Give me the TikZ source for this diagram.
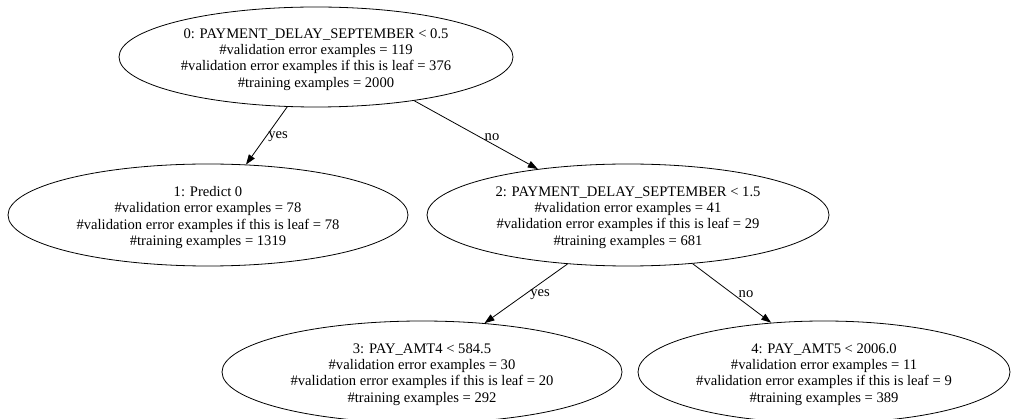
\documentclass[tikz,border=0pt]{standalone}
\usepackage{fontspec}
\setmainfont{Liberation Serif}
\usetikzlibrary{shapes.geometric,arrows.meta}
\tikzset{
  tnode/.style={draw, ellipse, inner sep=0pt, line width=0.8pt},
  ttext/.style={align=center, inner sep=0pt, yshift=-2.5pt,
    font=\fontsize{14.6}{16.2}\selectfont},
  tedge/.style={draw, line width=0.8pt, -{Triangle[length=10pt,width=7pt]}},
  elabel/.style={font=\fontsize{14.6}{16.2}\selectfont, inner sep=0pt}
}
\begin{document}
\begin{tikzpicture}[x=1pt,y=-1pt]
\useasboundingbox (0,0) rectangle (1017,419);
\begin{scope}
\clip (0,0) rectangle (1017,419);
\node[tnode, minimum width=394pt, minimum height=100pt,
  label={[ttext]center:{0: PAYMENT\_DELAY\_SEPTEMBER < 0.5\\\#validation error examples = 119\\\#validation error examples if this is leaf = 376\\\#training examples = 2000}}] (n0) at (316,57) {};
\node[tnode, minimum width=400pt, minimum height=102pt,
  label={[ttext]center:{1: Predict 0\\\#validation error examples = 78\\\#validation error examples if this is leaf = 78\\\#training examples = 1319}}] (n1) at (208,215) {};
\node[tnode, minimum width=402pt, minimum height=102pt,
  label={[ttext]center:{2: PAYMENT\_DELAY\_SEPTEMBER < 1.5\\\#validation error examples = 41\\\#validation error examples if this is leaf = 29\\\#training examples = 681}}] (n2) at (628,215) {};
\node[tnode, minimum width=400pt, minimum height=102pt,
  label={[ttext]center:{3: PAY\_AMT4 < 584.5\\\#validation error examples = 30\\\#validation error examples if this is leaf = 20\\\#training examples = 292}}] (n3) at (422,372) {};
\node[tnode, minimum width=372pt, minimum height=102pt,
  label={[ttext]center:{4: PAY\_AMT5 < 2006.0\\\#validation error examples = 11\\\#validation error examples if this is leaf = 9\\\#training examples = 389}}] (n4) at (824,372) {};
\end{scope}
\draw[tedge] (n0.240) -- (n1.53.5);
\draw[tedge] (n0.336) -- (n2.153);
\draw[tedge] (n2.219) -- (n3.38.4);
\draw[tedge] (n2.323) -- (n4.137);
\node[elabel] (l01) at (278,137) {yes};
\node[elabel] (l02) at (492,137) {no};
\node[elabel] (l23) at (540,295) {yes};
\node[elabel] (l24) at (746,294) {no};
\end{tikzpicture}
\end{document}
